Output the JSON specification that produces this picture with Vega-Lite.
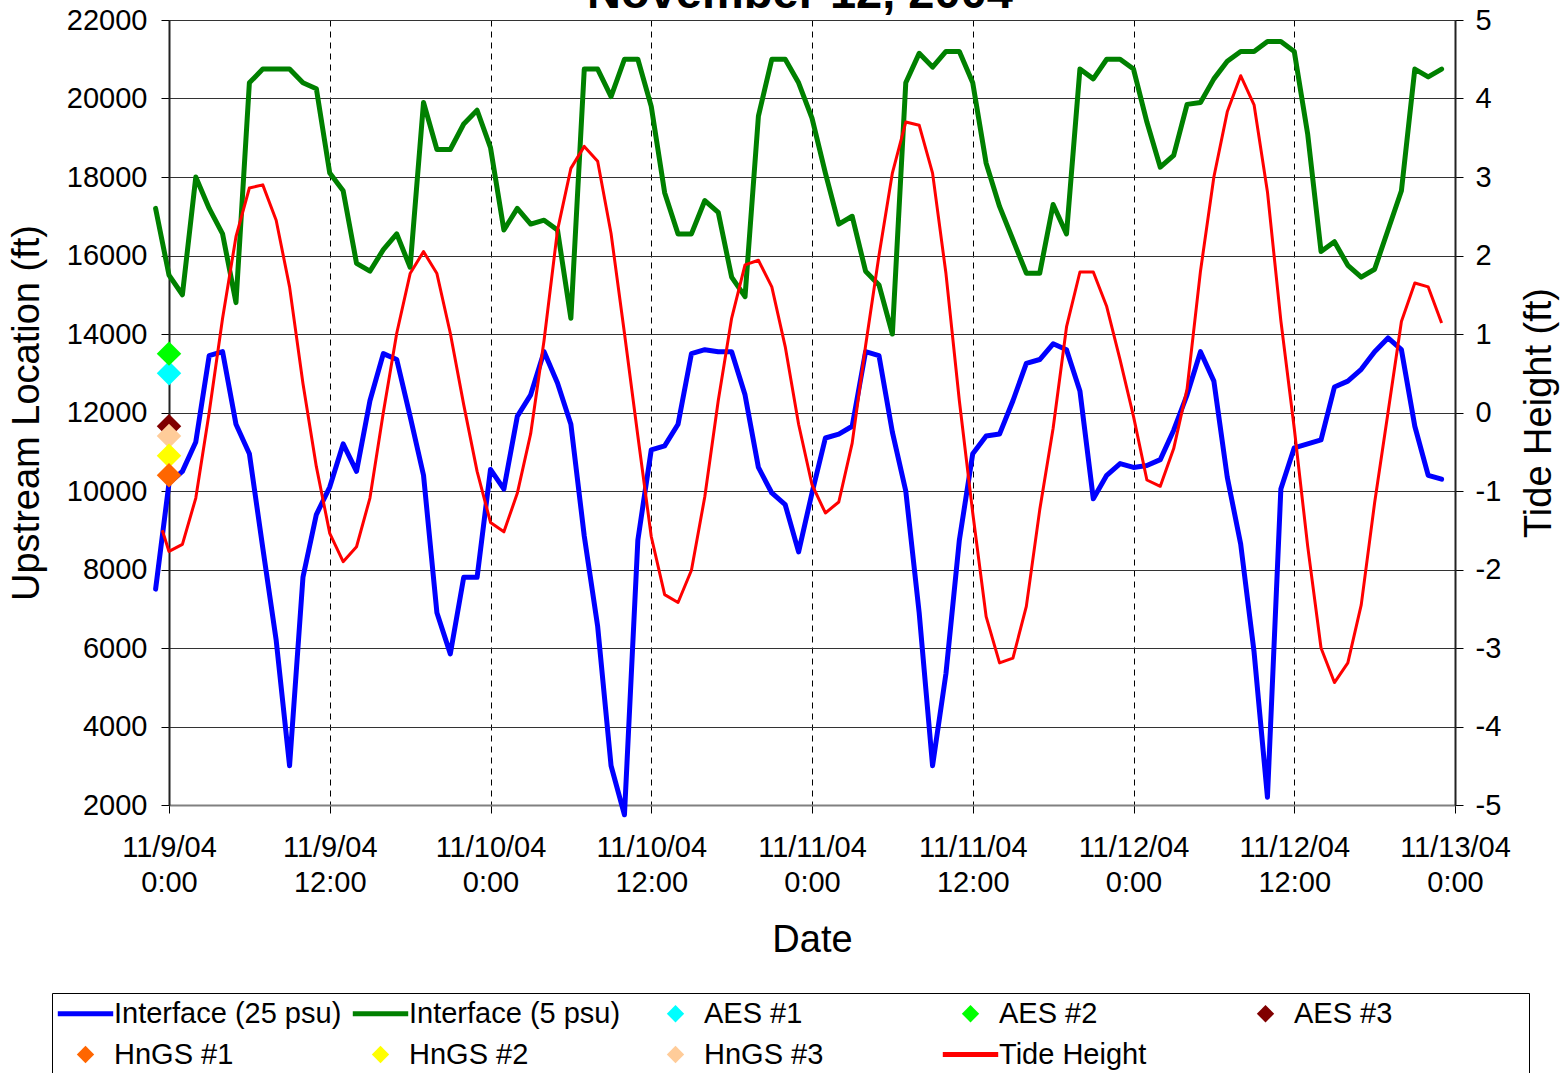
{
  "$schema": "https://vega.github.io/schema/vega-lite/v6.json",
  "width": 1286,
  "height": 785,
  "autosize": {"type": "none"},
  "padding": {"left": 169, "top": 20, "right": 110, "bottom": 268},
  "background": "white",
  "config": {
    "font": "Liberation Sans",
    "view": {"stroke": null},
    "axis": {"labelFont": "Liberation Sans", "titleFont": "Liberation Sans", "labelFontSize": 29, "titleFontSize": 38, "titleFontWeight": "normal", "labelColor": "black", "titleColor": "black", "tickColor": "black", "domainColor": "black", "tickSize": 8, "labelOverlap": false, "labelFlush": false}
  },
  "datasets": {
    "iface": [
      {"t":"2004-11-08T23:00Z","i25":7500,"i5":17200},
      {"t":"2004-11-09T00:00Z","i25":10200,"i5":15500},
      {"t":"2004-11-09T01:00Z","i25":10500,"i5":15000},
      {"t":"2004-11-09T02:00Z","i25":11250,"i5":18000},
      {"t":"2004-11-09T03:00Z","i25":13450,"i5":17200},
      {"t":"2004-11-09T04:00Z","i25":13550,"i5":16550},
      {"t":"2004-11-09T05:00Z","i25":11700,"i5":14800},
      {"t":"2004-11-09T06:00Z","i25":10950,"i5":20400},
      {"t":"2004-11-09T07:00Z","i25":8550,"i5":20750},
      {"t":"2004-11-09T08:00Z","i25":6200,"i5":20750},
      {"t":"2004-11-09T09:00Z","i25":3000,"i5":20750},
      {"t":"2004-11-09T10:00Z","i25":7800,"i5":20400},
      {"t":"2004-11-09T11:00Z","i25":9400,"i5":20250},
      {"t":"2004-11-09T12:00Z","i25":10100,"i5":18100},
      {"t":"2004-11-09T13:00Z","i25":11200,"i5":17650},
      {"t":"2004-11-09T14:00Z","i25":10500,"i5":15800},
      {"t":"2004-11-09T15:00Z","i25":12300,"i5":15600},
      {"t":"2004-11-09T16:00Z","i25":13500,"i5":16150},
      {"t":"2004-11-09T17:00Z","i25":13350,"i5":16550},
      {"t":"2004-11-09T18:00Z","i25":11900,"i5":15700},
      {"t":"2004-11-09T19:00Z","i25":10400,"i5":19900},
      {"t":"2004-11-09T20:00Z","i25":6900,"i5":18700},
      {"t":"2004-11-09T21:00Z","i25":5850,"i5":18700},
      {"t":"2004-11-09T22:00Z","i25":7800,"i5":19350},
      {"t":"2004-11-09T23:00Z","i25":7800,"i5":19700},
      {"t":"2004-11-10T00:00Z","i25":10550,"i5":18750},
      {"t":"2004-11-10T01:00Z","i25":10050,"i5":16650},
      {"t":"2004-11-10T02:00Z","i25":11900,"i5":17200},
      {"t":"2004-11-10T03:00Z","i25":12450,"i5":16800},
      {"t":"2004-11-10T04:00Z","i25":13550,"i5":16900},
      {"t":"2004-11-10T05:00Z","i25":12750,"i5":16650},
      {"t":"2004-11-10T06:00Z","i25":11700,"i5":14400},
      {"t":"2004-11-10T07:00Z","i25":8850,"i5":20750},
      {"t":"2004-11-10T08:00Z","i25":6550,"i5":20750},
      {"t":"2004-11-10T09:00Z","i25":3000,"i5":20050},
      {"t":"2004-11-10T10:00Z","i25":1750,"i5":21000},
      {"t":"2004-11-10T11:00Z","i25":8750,"i5":21000},
      {"t":"2004-11-10T12:00Z","i25":11050,"i5":19800},
      {"t":"2004-11-10T13:00Z","i25":11150,"i5":17600},
      {"t":"2004-11-10T14:00Z","i25":11700,"i5":16550},
      {"t":"2004-11-10T15:00Z","i25":13500,"i5":16550},
      {"t":"2004-11-10T16:00Z","i25":13600,"i5":17400},
      {"t":"2004-11-10T17:00Z","i25":13550,"i5":17100},
      {"t":"2004-11-10T18:00Z","i25":13550,"i5":15450},
      {"t":"2004-11-10T19:00Z","i25":12450,"i5":14950},
      {"t":"2004-11-10T20:00Z","i25":10600,"i5":19550},
      {"t":"2004-11-10T21:00Z","i25":9950,"i5":21000},
      {"t":"2004-11-10T22:00Z","i25":9650,"i5":21000},
      {"t":"2004-11-10T23:00Z","i25":8450,"i5":20400},
      {"t":"2004-11-11T00:00Z","i25":9950,"i5":19500},
      {"t":"2004-11-11T01:00Z","i25":11350,"i5":18100},
      {"t":"2004-11-11T02:00Z","i25":11450,"i5":16800},
      {"t":"2004-11-11T03:00Z","i25":11650,"i5":17000},
      {"t":"2004-11-11T04:00Z","i25":13550,"i5":15600},
      {"t":"2004-11-11T05:00Z","i25":13450,"i5":15250},
      {"t":"2004-11-11T06:00Z","i25":11500,"i5":14000},
      {"t":"2004-11-11T07:00Z","i25":10000,"i5":20400},
      {"t":"2004-11-11T08:00Z","i25":6900,"i5":21150},
      {"t":"2004-11-11T09:00Z","i25":3000,"i5":20800},
      {"t":"2004-11-11T10:00Z","i25":5350,"i5":21200},
      {"t":"2004-11-11T11:00Z","i25":8750,"i5":21200},
      {"t":"2004-11-11T12:00Z","i25":10950,"i5":20400},
      {"t":"2004-11-11T13:00Z","i25":11400,"i5":18350},
      {"t":"2004-11-11T14:00Z","i25":11450,"i5":17250},
      {"t":"2004-11-11T15:00Z","i25":12300,"i5":16400},
      {"t":"2004-11-11T16:00Z","i25":13250,"i5":15550},
      {"t":"2004-11-11T17:00Z","i25":13350,"i5":15550},
      {"t":"2004-11-11T18:00Z","i25":13750,"i5":17300},
      {"t":"2004-11-11T19:00Z","i25":13600,"i5":16550},
      {"t":"2004-11-11T20:00Z","i25":12550,"i5":20750},
      {"t":"2004-11-11T21:00Z","i25":9800,"i5":20500},
      {"t":"2004-11-11T22:00Z","i25":10400,"i5":21000},
      {"t":"2004-11-11T23:00Z","i25":10700,"i5":21000},
      {"t":"2004-11-12T00:00Z","i25":10600,"i5":20750},
      {"t":"2004-11-12T01:00Z","i25":10650,"i5":19400},
      {"t":"2004-11-12T02:00Z","i25":10800,"i5":18250},
      {"t":"2004-11-12T03:00Z","i25":11550,"i5":18550},
      {"t":"2004-11-12T04:00Z","i25":12450,"i5":19850},
      {"t":"2004-11-12T05:00Z","i25":13550,"i5":19900},
      {"t":"2004-11-12T06:00Z","i25":12800,"i5":20500},
      {"t":"2004-11-12T07:00Z","i25":10350,"i5":20950},
      {"t":"2004-11-12T08:00Z","i25":8650,"i5":21200},
      {"t":"2004-11-12T09:00Z","i25":5900,"i5":21200},
      {"t":"2004-11-12T10:00Z","i25":2200,"i5":21450},
      {"t":"2004-11-12T11:00Z","i25":10050,"i5":21450},
      {"t":"2004-11-12T12:00Z","i25":11100,"i5":21200},
      {"t":"2004-11-12T13:00Z","i25":11200,"i5":19100},
      {"t":"2004-11-12T14:00Z","i25":11300,"i5":16100},
      {"t":"2004-11-12T15:00Z","i25":12650,"i5":16350},
      {"t":"2004-11-12T16:00Z","i25":12800,"i5":15750},
      {"t":"2004-11-12T17:00Z","i25":13100,"i5":15450},
      {"t":"2004-11-12T18:00Z","i25":13550,"i5":15650},
      {"t":"2004-11-12T19:00Z","i25":13900,"i5":16650},
      {"t":"2004-11-12T20:00Z","i25":13600,"i5":17650},
      {"t":"2004-11-12T21:00Z","i25":11650,"i5":20750},
      {"t":"2004-11-12T22:00Z","i25":10400,"i5":20550},
      {"t":"2004-11-12T23:00Z","i25":10300,"i5":20750}
    ],
    "tide": [
      {"t":"2004-11-08T23:30Z","tide":-1.5},
      {"t":"2004-11-09T00:00Z","tide":-1.77},
      {"t":"2004-11-09T01:00Z","tide":-1.68},
      {"t":"2004-11-09T02:00Z","tide":-1.09},
      {"t":"2004-11-09T03:00Z","tide":0.0},
      {"t":"2004-11-09T04:00Z","tide":1.2},
      {"t":"2004-11-09T05:00Z","tide":2.24},
      {"t":"2004-11-09T06:00Z","tide":2.86},
      {"t":"2004-11-09T07:00Z","tide":2.9},
      {"t":"2004-11-09T08:00Z","tide":2.45},
      {"t":"2004-11-09T09:00Z","tide":1.6},
      {"t":"2004-11-09T10:00Z","tide":0.37},
      {"t":"2004-11-09T11:00Z","tide":-0.69},
      {"t":"2004-11-09T12:00Z","tide":-1.54},
      {"t":"2004-11-09T13:00Z","tide":-1.9},
      {"t":"2004-11-09T14:00Z","tide":-1.71},
      {"t":"2004-11-09T15:00Z","tide":-1.09},
      {"t":"2004-11-09T16:00Z","tide":0.0},
      {"t":"2004-11-09T17:00Z","tide":1.01},
      {"t":"2004-11-09T18:00Z","tide":1.77},
      {"t":"2004-11-09T19:00Z","tide":2.05},
      {"t":"2004-11-09T20:00Z","tide":1.77},
      {"t":"2004-11-09T21:00Z","tide":1.01},
      {"t":"2004-11-09T22:00Z","tide":0.1},
      {"t":"2004-11-09T23:00Z","tide":-0.75},
      {"t":"2004-11-10T00:00Z","tide":-1.4},
      {"t":"2004-11-10T01:00Z","tide":-1.52},
      {"t":"2004-11-10T02:00Z","tide":-1.03},
      {"t":"2004-11-10T03:00Z","tide":-0.27},
      {"t":"2004-11-10T04:00Z","tide":0.92},
      {"t":"2004-11-10T05:00Z","tide":2.32},
      {"t":"2004-11-10T06:00Z","tide":3.11},
      {"t":"2004-11-10T07:00Z","tide":3.39},
      {"t":"2004-11-10T08:00Z","tide":3.2},
      {"t":"2004-11-10T09:00Z","tide":2.28},
      {"t":"2004-11-10T10:00Z","tide":1.01},
      {"t":"2004-11-10T11:00Z","tide":-0.3},
      {"t":"2004-11-10T12:00Z","tide":-1.58},
      {"t":"2004-11-10T13:00Z","tide":-2.32},
      {"t":"2004-11-10T14:00Z","tide":-2.42},
      {"t":"2004-11-10T15:00Z","tide":-2.01},
      {"t":"2004-11-10T16:00Z","tide":-1.07},
      {"t":"2004-11-10T17:00Z","tide":0.15},
      {"t":"2004-11-10T18:00Z","tide":1.2},
      {"t":"2004-11-10T19:00Z","tide":1.88},
      {"t":"2004-11-10T20:00Z","tide":1.94},
      {"t":"2004-11-10T21:00Z","tide":1.6},
      {"t":"2004-11-10T22:00Z","tide":0.84},
      {"t":"2004-11-10T23:00Z","tide":-0.15},
      {"t":"2004-11-11T00:00Z","tide":-0.92},
      {"t":"2004-11-11T01:00Z","tide":-1.28},
      {"t":"2004-11-11T02:00Z","tide":-1.14},
      {"t":"2004-11-11T03:00Z","tide":-0.39},
      {"t":"2004-11-11T04:00Z","tide":0.85},
      {"t":"2004-11-11T05:00Z","tide":2.0},
      {"t":"2004-11-11T06:00Z","tide":3.05},
      {"t":"2004-11-11T07:00Z","tide":3.7},
      {"t":"2004-11-11T08:00Z","tide":3.66},
      {"t":"2004-11-11T09:00Z","tide":3.05},
      {"t":"2004-11-11T10:00Z","tide":1.77},
      {"t":"2004-11-11T11:00Z","tide":0.15},
      {"t":"2004-11-11T12:00Z","tide":-1.28},
      {"t":"2004-11-11T13:00Z","tide":-2.6},
      {"t":"2004-11-11T14:00Z","tide":-3.19},
      {"t":"2004-11-11T15:00Z","tide":-3.13},
      {"t":"2004-11-11T16:00Z","tide":-2.47},
      {"t":"2004-11-11T17:00Z","tide":-1.24},
      {"t":"2004-11-11T18:00Z","tide":-0.2},
      {"t":"2004-11-11T19:00Z","tide":1.09},
      {"t":"2004-11-11T20:00Z","tide":1.79},
      {"t":"2004-11-11T21:00Z","tide":1.79},
      {"t":"2004-11-11T22:00Z","tide":1.35},
      {"t":"2004-11-11T23:00Z","tide":0.67},
      {"t":"2004-11-12T00:00Z","tide":-0.05},
      {"t":"2004-11-12T01:00Z","tide":-0.86},
      {"t":"2004-11-12T02:00Z","tide":-0.94},
      {"t":"2004-11-12T03:00Z","tide":-0.46},
      {"t":"2004-11-12T04:00Z","tide":0.3},
      {"t":"2004-11-12T05:00Z","tide":1.8},
      {"t":"2004-11-12T06:00Z","tide":3.0},
      {"t":"2004-11-12T07:00Z","tide":3.83},
      {"t":"2004-11-12T08:00Z","tide":4.29},
      {"t":"2004-11-12T09:00Z","tide":3.92},
      {"t":"2004-11-12T10:00Z","tide":2.81},
      {"t":"2004-11-12T11:00Z","tide":1.17},
      {"t":"2004-11-12T12:00Z","tide":-0.2},
      {"t":"2004-11-12T13:00Z","tide":-1.7},
      {"t":"2004-11-12T14:00Z","tide":-3.0},
      {"t":"2004-11-12T15:00Z","tide":-3.44},
      {"t":"2004-11-12T16:00Z","tide":-3.19},
      {"t":"2004-11-12T17:00Z","tide":-2.45},
      {"t":"2004-11-12T18:00Z","tide":-1.15},
      {"t":"2004-11-12T19:00Z","tide":0.0},
      {"t":"2004-11-12T20:00Z","tide":1.16},
      {"t":"2004-11-12T21:00Z","tide":1.65},
      {"t":"2004-11-12T22:00Z","tide":1.6},
      {"t":"2004-11-12T23:00Z","tide":1.14}
    ],
    "pts": [
      {"t":"2004-11-09T00:00Z","series":"aes1","v":13000},
      {"t":"2004-11-09T00:00Z","series":"aes2","v":13500},
      {"t":"2004-11-09T00:00Z","series":"aes3","v":11650},
      {"t":"2004-11-09T00:00Z","series":"hn3","v":11400},
      {"t":"2004-11-09T00:00Z","series":"hn2","v":10900},
      {"t":"2004-11-09T00:00Z","series":"hn1","v":10400}
    ],
    "heading": [
      {"t":"2004-11-11T00:00Z","v":22300,"label":"November 12, 2004"}
    ]
  },
  "encoding": {
    "x": {
      "field": "t", "type": "temporal", "title": "Date",
      "scale": {"type": "utc", "nice": false, "domain": [{"year": 2004, "month": 11, "date": 9, "hours": 0, "utc": true}, {"year": 2004, "month": 11, "date": 13, "hours": 0, "utc": true}]},
      "axis": {
        "values": [
          {"year": 2004, "month": 11, "date": 9, "hours": 0, "utc": true},
          {"year": 2004, "month": 11, "date": 9, "hours": 12, "utc": true},
          {"year": 2004, "month": 11, "date": 10, "hours": 0, "utc": true},
          {"year": 2004, "month": 11, "date": 10, "hours": 12, "utc": true},
          {"year": 2004, "month": 11, "date": 11, "hours": 0, "utc": true},
          {"year": 2004, "month": 11, "date": 11, "hours": 12, "utc": true},
          {"year": 2004, "month": 11, "date": 12, "hours": 0, "utc": true},
          {"year": 2004, "month": 11, "date": 12, "hours": 12, "utc": true},
          {"year": 2004, "month": 11, "date": 13, "hours": 0, "utc": true}
        ],
        "labelExpr": "[utcFormat(datum.value, '%-m/%-d/%y'), utcFormat(datum.value, '%-H:%M')]",
        "grid": true, "gridDash": [6, 5], "gridColor": "black", "gridWidth": 1,
        "labelPadding": 20, "labelLineHeight": 35, "titlePadding": 24,
        "domainColor": "#808080", "domainWidth": 2
      }
    }
  },
  "layer": [
    {
      "encoding": {
        "y": {
          "field": "v", "type": "quantitative", "title": "Upstream Location (ft)",
          "scale": {"domain": [2000, 22000], "nice": false, "zero": false},
          "axis": {"values": [2000, 4000, 6000, 8000, 10000, 12000, 14000, 16000, 18000, 20000, 22000], "format": "d", "grid": true, "gridColor": "#333333", "gridWidth": 1, "labelPadding": 14, "titlePadding": 20, "domainWidth": 2, "domainColor": "#222222"}
        }
      },
      "layer": [
        {
          "data": {"name": "iface"},
          "transform": [{"fold": ["i25", "i5"], "as": ["k", "v"]}],
          "mark": {"type": "line", "strokeWidth": 5, "strokeJoin": "round", "strokeCap": "round"},
          "encoding": {
            "color": {
              "field": "k", "type": "nominal",
              "scale": {"domain": ["i25", "i5", "aes1", "aes2", "aes3", "hn1", "hn2", "hn3", "tide"], "range": ["#0000FF", "#008000", "#00FFFF", "#00FF00", "#800000", "#FF6600", "#FFFF00", "#FFCC99", "#FF0000"]},
              "legend": {
                "title": " ", "titleOrient": "right", "titlePadding": 131, "titleFontSize": 10,
                "orient": "none", "legendX": -117, "legendY": 973,
                "direction": "horizontal",
                "columns": 5, "gridAlign": "all", "columnPadding": 10, "rowPadding": 11,
                "padding": 6, "strokeColor": "black", "fillColor": "white",
                "symbolSize": 300, "symbolStrokeWidth": 0, "symbolOffset": 13, "labelOffset": 14,
                "labelFontSize": 29, "labelFont": "Liberation Sans", "labelColor": "black", "labelLimit": 400,
                "labelExpr": "datum.label == 'i25' ? 'Interface (25 psu)' : datum.label == 'i5' ? 'Interface (5 psu)' : datum.label == 'aes1' ? 'AES #1' : datum.label == 'aes2' ? 'AES #2' : datum.label == 'aes3' ? 'AES #3' : datum.label == 'hn1' ? 'HnGS #1' : datum.label == 'hn2' ? 'HnGS #2' : datum.label == 'hn3' ? 'HnGS #3' : 'Tide Height'",
                "encode": {
                  "symbols": {
                    "update": {
                      "shape": {"signal": "indexof(['i25','i5','tide'], datum.value) >= 0 ? 'M-3.2,-0.28H3.2V0.28H-3.2Z' : 'diamond'"},
                      "fill": {"scale": "color", "field": "value"},
                      "stroke": {"value": "transparent"},
                      "strokeWidth": {"value": 0},
                      "opacity": {"value": 1}
                    }
                  }
                }
              }
            }
          }
        },
        {
          "data": {"name": "pts"},
          "mark": {"type": "point", "shape": "diamond", "filled": true, "size": 600, "opacity": 1, "strokeWidth": 0},
          "encoding": {
            "color": {
              "field": "series", "type": "nominal",
              "scale": {"domain": ["i25", "i5", "aes1", "aes2", "aes3", "hn1", "hn2", "hn3", "tide"], "range": ["#0000FF", "#008000", "#00FFFF", "#00FF00", "#800000", "#FF6600", "#FFFF00", "#FFCC99", "#FF0000"]}
            }
          }
        },
        {
          "data": {"name": "heading"},
          "mark": {"type": "text", "fontSize": 47, "fontWeight": "bold", "font": "Liberation Sans", "baseline": "alphabetic", "align": "center", "dx": -12, "color": "black"},
          "encoding": {
            "text": {"field": "label"}
          }
        }
      ]
    },
    {
      "data": {"name": "tide"},
      "mark": {"type": "line", "strokeWidth": 3, "strokeJoin": "round"},
      "encoding": {
        "y": {
          "field": "tide", "type": "quantitative", "title": "Tide Height (ft)",
          "scale": {"domain": [-5, 5], "nice": false, "zero": false},
          "axis": {"orient": "right", "values": [-5, -4, -3, -2, -1, 0, 1, 2, 3, 4, 5], "labelExpr": "'' + datum.value", "grid": false, "labelPadding": 12, "titlePadding": 20, "titleAngle": 270, "titleBaseline": "top", "domainWidth": 2, "domainColor": "#222222"}
        },
        "color": {
          "datum": "tide",
          "scale": {"domain": ["i25", "i5", "aes1", "aes2", "aes3", "hn1", "hn2", "hn3", "tide"], "range": ["#0000FF", "#008000", "#00FFFF", "#00FF00", "#800000", "#FF6600", "#FFFF00", "#FFCC99", "#FF0000"]}
        }
      }
    }
  ],
  "resolve": {"scale": {"y": "independent"}}
}
